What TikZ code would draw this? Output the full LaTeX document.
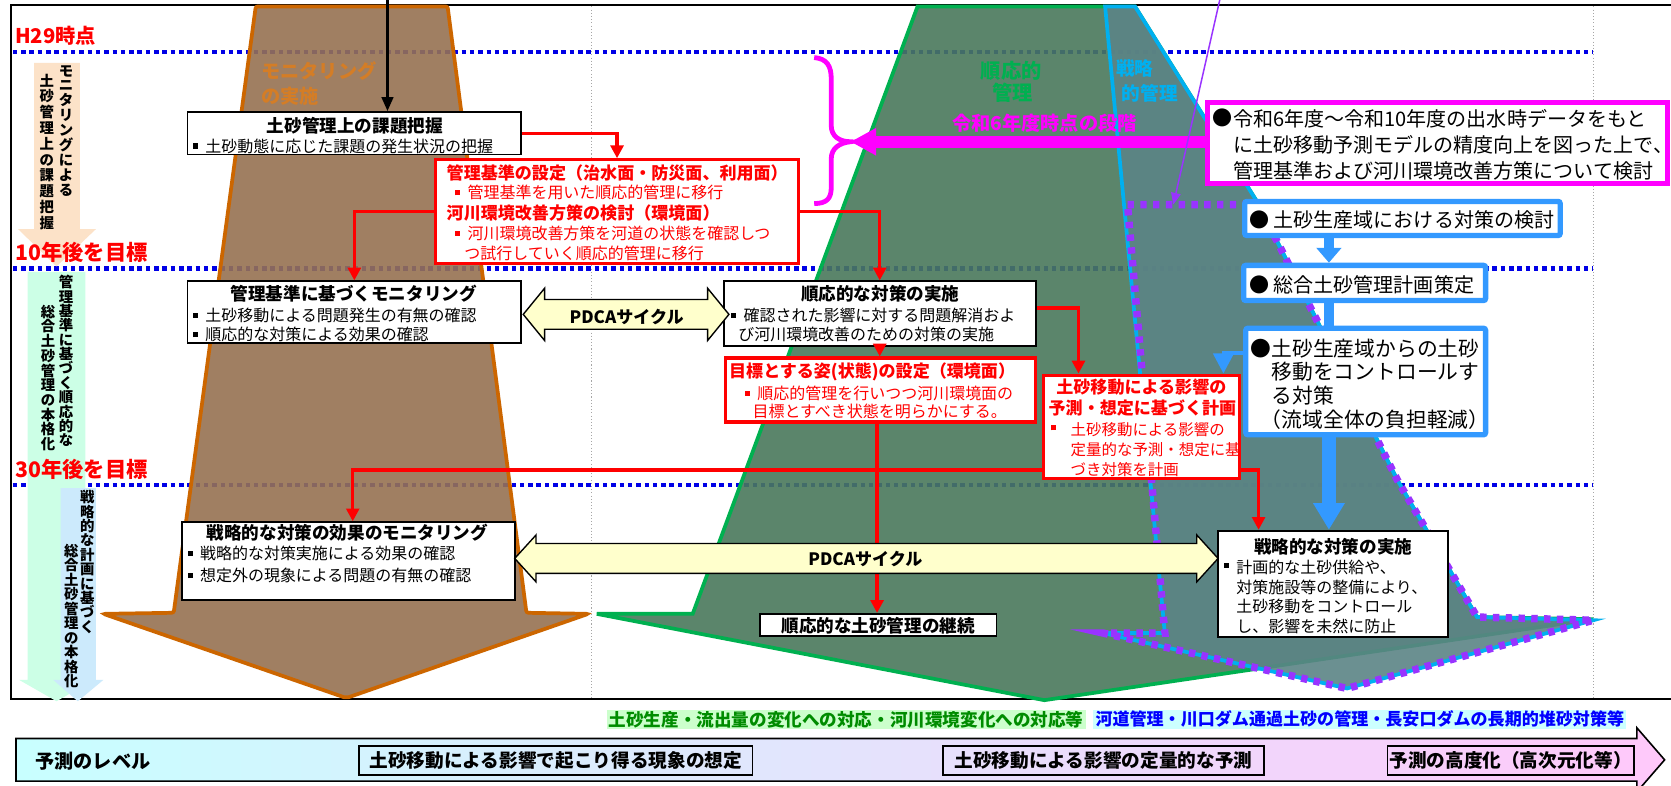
\documentclass[tikz,border=0pt]{standalone}
\usepackage{fontspec}
\setmainfont{Noto Sans CJK JP}
\usetikzlibrary{arrows.meta,fit,calc}
\definecolor{brn}{RGB}{204,102,0}
\definecolor{brnfill}{RGB}{150,114,82}
\definecolor{grn}{RGB}{0,176,80}
\definecolor{grnfill}{RGB}{74,120,92}
\definecolor{cyn}{RGB}{0,176,240}
\definecolor{cynfill}{RGB}{92,132,134}
\definecolor{vio}{RGB}{153,51,255}
\definecolor{mg}{RGB}{255,0,255}
\definecolor{bl}{RGB}{51,153,255}
\definecolor{dotb}{RGB}{0,0,230}
\definecolor{peach}{RGB}{252,226,200}
\definecolor{lgrn}{RGB}{204,255,230}
\definecolor{lblu}{RGB}{204,234,252}
\definecolor{pdc}{RGB}{255,255,204}
\definecolor{lcyan}{RGB}{200,255,255}
\definecolor{lyel}{RGB}{255,255,210}
\definecolor{lpink}{RGB}{255,200,250}
\definecolor{lg2}{RGB}{204,255,204}
\definecolor{dg}{RGB}{0,140,0}
\definecolor{lc2}{RGB}{204,255,255}
\newcommand\fs[1]{\fontsize{#1}{#1}\selectfont}
\newcommand\sqb{\rule[0.22em]{0.32em}{0.32em}\hspace{0.45em}}
\ExplSyntaxOn
\NewDocumentCommand\vtx{O{1.04}m}{\vbox{\baselineskip=#1em\lineskiplimit=-\maxdimen\lineskip=0pt\tl_map_inline:nn{#2}{\hbox to 1em{\hss##1\hss}}}}
\ExplSyntaxOff
\begin{document}
\begin{tikzpicture}[x=1pt,y=-1pt,
  bx/.style={draw=black, line width=1.7pt, fill=white, inner sep=0pt},
  rbx/.style={draw=red, line width=3pt, fill=white, inner sep=0pt},
  blbx/.style={draw=bl, line width=5pt, fill=white, rounded corners=2pt, inner sep=0pt},
  mgbx/.style={draw=mg, line width=5pt, fill=white, inner sep=0pt},
  txt/.style={inner sep=0pt, anchor=west, font=\fs{15}},
  rtx/.style={inner sep=0pt, anchor=west, font=\fs{15}, text=red},
  ttl/.style={inner sep=0pt, font=\fs{16.5}\bfseries},
  rtt/.style={inner sep=0pt, font=\fs{16}\bfseries, text=red},
  rarr/.style={draw=red, line width=3pt, -{Triangle[length=12pt,width=12pt]}},
  vlab/.style={inner sep=0pt, anchor=north, font=\fs{13.5}\bfseries},
  yl/.style={inner sep=0pt, anchor=west, font=\fs{19}\bfseries, text=red},
  blu/.style={inner sep=0pt, anchor=west, font=\fs{18.8}},
  pdca/.style={draw=black, line width=1.3pt, fill=pdc},
  lvl/.style={draw=black, line width=1.5pt, font=\fs{17.5}\bfseries, minimum height=27pt, inner sep=0pt},
  viodot/.style={draw=vio, line width=7pt, dash pattern=on 6pt off 6pt}
]
\useasboundingbox (0,0) rectangle (1568,737);
\fill[white] (0,0) rectangle (1568,737);

% frame, guides
\draw[line width=1.8pt] (10,5) rectangle (1590,656);
\draw[gray!70, line width=1pt, dotted] (555,6) -- (555,655);
\draw[gray!70, line width=1pt, dotted] (1495,6) -- (1495,655);
\foreach \yy in {49,252,455} \draw[dotb, line width=4.2pt, dash pattern=on 4.2pt off 3.6pt] (12,\yy) -- (1495,\yy);

% left stage arrows
\fill[peach] (32,59) -- (75,59) -- (75,215) -- (90,215) -- (53,250) -- (17,215) -- (32,215) -- cycle;
\fill[lgrn] (26,255) -- (80,255) -- (80,638) -- (88,638) -- (53,658) -- (18,638) -- (26,638) -- cycle;
\fill[lblu] (57,458) -- (90,458) -- (90,638) -- (97,638) -- (73,658) -- (50,638) -- (57,638) -- cycle;
\node[vlab] (v1) at (62,61) {\vtx{モニタリングによる}};
\node[vlab] (v2) at (44,69) {\vtx[1.1]{土砂管理上の課題把握}};
\node[vlab] (v3) at (62,258) {\vtx[1.0]{管理基準に基づく順応的な}};
\node[vlab] (v4) at (45,286) {\vtx[1.02]{総合土砂管理の本格化}};
\node[vlab] (v5) at (82,460) {\vtx[1.0]{戦略的な計画に基づく}};
\node[vlab] (v6) at (67,510) {\vtx[1.01]{総合土砂管理の本格化}};

\node[yl] (h29) at (14,34) {H29時点};
\node[yl, font=\fs{20}\bfseries] (y10) at (14,237) {10年後を目標};
\node[yl, font=\fs{20}\bfseries] (y30) at (14,440) {30年後を目標};

% big shapes
\draw[brn, line width=3.5pt, fill=brnfill, fill opacity=0.9, rounded corners=2pt] (240,6) -- (420,6) -- (494,575) -- (552,576) -- (325,655) -- (97,576) -- (163,575) -- cycle;
\draw[grn, line width=3.5pt, fill=grnfill, fill opacity=0.9] (861,6) -- (1065,6) -- (1180,190) -- (1311,450) -- (1386,579) -- (1495,581) -- (980,657) -- (560,576) -- (650,576) -- cycle;
\draw[cyn, line width=3.5pt, fill=cynfill, fill opacity=0.9] (1037,6) -- (1065,6) -- (1180,190) -- (1311,450) -- (1386,579) -- (1495,582) -- (1264,646) -- (1035,594) -- (1093,594) -- cycle;
\draw[viodot] (1058,192) -- (1181,192) -- (1311,450) -- (1386,579) -- (1495,582) -- (1264,646) -- (1035,594) -- (1093,594) -- cycle;

\node[inner sep=0pt, anchor=west, font=\fs{18}\bfseries, text=brn!85!white] (mon1) at (245,67) {モニタリング};
\node[inner sep=0pt, anchor=west, font=\fs{18}\bfseries, text=brn!85!white] (mon2) at (245,90) {の実施};
\node[inner sep=0pt, font=\fs{19}\bfseries, text=grn] (jn1) at (949,66) {順応的};
\node[inner sep=0pt, font=\fs{19}\bfseries, text=grn] (jn2) at (950,87) {管理};
\node[inner sep=0pt, font=\fs{17.5}\bfseries, text=cyn] (sr1) at (1065,64) {戦略};
\node[inner sep=0pt, font=\fs{17.5}\bfseries, text=cyn] (sr2) at (1079,88) {的管理};

% box 1
\node[bx, fit={(176,105) (489,145)}] (b1) {};
\node[ttl] (b1t) at (333,118) {土砂管理上の課題把握};
\node[txt] (b1a) at (181,137) {\sqb 土砂動態に応じた課題の発生状況の把握};

% box 2 (red)
\node[rbx, fit={(409,150) (749,247)}] (b2) {};
\node[rtt, anchor=west] (b2t) at (419,162.5) {管理基準の設定（治水面・防災面、利用面）};
\node[rtx] (b2a) at (427,181) {\sqb 管理基準を用いた順応的管理に移行};
\node[rtt, anchor=west] (b2u) at (419,200) {河川環境改善方策の検討（環境面）};
\node[rtx] (b2b) at (427,219) {\sqb 河川環境改善方策を河道の状態を確認しつ};
\node[rtx] (b2c) at (435.6,237.5) {つ試行していく順応的管理に移行};

% box 3
\node[bx, fit={(176,264) (489,322)}] (b3) {};
\node[ttl] (b3t) at (332,276) {管理基準に基づくモニタリング};
\node[txt] (b3a) at (181,296) {\sqb 土砂移動による問題発生の有無の確認};
\node[txt] (b3b) at (181,314) {\sqb 順応的な対策による効果の確認};

% box 4
\node[bx, fit={(679,264) (972,325)}] (b4) {};
\node[ttl] (b4t) at (826,276) {順応的な対策の実施};
\node[txt] (b4a) at (686,296) {\sqb 確認された影響に対する問題解消およ};
\node[txt] (b4b) at (692.6,314) {び河川環境改善のための対策の実施};

% box 5 (red)
\node[rbx, fit={(681,336) (972,396)}] (b5) {};
\node[rtt, anchor=west] (b5t) at (684,349) {目標とする姿(状態)の設定（環境面）};
\node[rtx] (b5a) at (699,369) {\sqb 順応的管理を行いつつ河川環境面の};
\node[rtx] (b5b) at (706,386) {目標とすべき状態を明らかにする。};

% box 6 (red)
\node[rbx, fit={(979,352) (1163,449)}] (b6) {};
\node[rtt] (b6t) at (1071,363) {土砂移動による影響の};
\node[rtt] (b6u) at (1072,383) {予測・想定に基づく計画};
\node[rtx, font=\fs{14.5}] (b6s) at (986,403) {\rule[0.22em]{0.32em}{0.32em}};
\node[rtx, font=\fs{14.5}] (b6a) at (1004.5,403) {土砂移動による影響の};
\node[rtx, font=\fs{14.5}] (b6b) at (1004.5,422) {定量的な予測・想定に基};
\node[rtx, font=\fs{14.5}] (b6c) at (1004.5,441) {づき対策を計画};

% box 7
\node[bx, fit={(171,490) (483,563)}] (b7) {};
\node[ttl] (b7t) at (326,500) {戦略的な対策の効果のモニタリング};
\node[txt] (b7a) at (176,519) {\sqb 戦略的な対策実施による効果の確認};
\node[txt] (b7b) at (176,540) {\sqb 想定外の現象による問題の有無の確認};

% box 8
\node[bx, fit={(1143,498) (1359,598)}] (b8) {};
\node[ttl] (b8t) at (1251,513) {戦略的な対策の実施};
\node[txt] (b8s) at (1148.6,532) {\rule[0.22em]{0.32em}{0.32em}};
\node[txt] (b8a) at (1160,532) {計画的な土砂供給や、};
\node[txt] (b8b) at (1160,551) {対策施設等の整備により、};
\node[txt] (b8c) at (1160,569.5) {土砂移動をコントロール};
\node[txt] (b8d) at (1160,588) {し、影響を未然に防止};

% box 9
\node[bx, fit={(713,576) (935,597)}] (bk) {};
\node[ttl, font=\fs{16.5}\bfseries] (bkt) at (824,587) {順応的な土砂管理の継続};

% red connectors
\draw[rarr] (b1.east) -| (b2.north);
\draw[rarr] (b2.west) -| (b3.north);
\draw[rarr] (b2.east) -| (b4.north);
\draw[rarr] (b4.south) -- (b4.south |- b5.north);
\draw[rarr] (b4.east |- 0,289) -| (b6.north -| 1012,0);
\draw[rarr] (b5.south -| 823,0) -- (bk.north -| 823,0);
\draw[rarr] (b6.west |- 0,441) -| (b7.north -| 331,0);
\draw[rarr] (b6.east |- 0,441) -| (b8.north -| 1181,0);

% PDCA arrows
\draw[pdca] (491,295) -- (511,270.5) -- (511,281) -- (664,281) -- (664,270.5) -- (684,295) -- (664,319.5) -- (664,309) -- (511,309) -- (511,319.5) -- cycle;
\node[inner sep=0pt, font=\fs{16}\bfseries] (pd1) at (588,297) {PDCAサイクル};
\draw[pdca] (483,524) -- (503,502) -- (503,510) -- (1123,510) -- (1123,502) -- (1143,524) -- (1123,546) -- (1123,538) -- (503,538) -- (503,546) -- cycle;
\node[inner sep=0pt, font=\fs{16}\bfseries] (pd2) at (812,525) {PDCAサイクル};

% black input arrow
\coordinate (topin) at (363.6,-2);
\draw[line width=2pt, -{Triangle[length=13pt,width=11pt]}] (topin) -- (b1.north -| topin);

% magenta brace, arrow and box
\coordinate (brtip) at (798,133);
\draw[mg, line width=4.5pt] (764,54) .. controls (776,55) and (780,62) .. (780,74) -- (780,118) .. controls (780,128) and (788,133) .. (brtip) .. controls (788,134) and (780,139) .. (780,149) -- (780,176) .. controls (780,186) and (776,191) .. (764,191);
\node[mgbx, fit={(1133,96) (1565,172)}] (mgb) {};
\draw[mg, line width=11pt, -{Triangle[length=24pt,width=24pt]}] (mgb.west |- 0,133) -- (brtip);
\node[inner sep=0pt, font=\fs{18}\bfseries, text=mg] (r6) at (980,116) {令和6年度時点の段階};
\node[blu] (m1s) at (1138,111) {●};
\node[blu] (m1) at (1157,111) {令和6年度～令和10年度の出水時データをもと};
\node[blu] (m2) at (1157,136) {に土砂移動予測モデルの精度向上を図った上で、};
\node[blu] (m3) at (1157,160) {管理基準および河川環境改善方策について検討};

% blue boxes
\node[blbx, fit={(1168,189) (1464,221)}] (ba) {};
\node[blu] (bat) at (1172,206) {● 土砂生産域における対策の検討};
\node[blbx, fit={(1167,249) (1394,282)}] (bb) {};
\node[blu] (bbt) at (1172,267) {● 総合土砂管理計画策定};
\node[blbx, fit={(1169,308) (1394,408)}] (bc) {};
\node[blu, font=\fs{19.5}] (bc1) at (1173,327) {●};
\node[blu, font=\fs{19.5}] (bc2) at (1193,327) {土砂生産域からの土砂};
\node[blu, font=\fs{19.5}] (bc3) at (1193,349) {移動をコントロールす};
\node[blu, font=\fs{19.5}] (bc4) at (1193,371) {る対策};
\node[blu, font=\fs{19.5}] (bc5) at (1183,394) {（流域全体の負担軽減）};

\draw[bl, line width=10pt, -{Triangle[length=14pt,width=23pt]}] (ba.south -| 1247,0) -- (bb.north -| 1247,0);
\draw[bl, line width=10pt] (bb.south -| 1247,0) -- (bc.north -| 1247,0);
\draw[bl, line width=3.5pt, -{Triangle[length=19pt,width=19pt]}] (bc.west |- 0,331) -| (b6.north -| 1148,0);
\draw[bl, line width=13pt, -{Triangle[length=25pt,width=28pt]}] (bc.south -| 1247,0) -- (b8.north -| 1247,0);

% purple thin arrow
\coordinate (pst) at (1145,-2);
\coordinate (pen) at (1101,192);
\draw[vio, line width=1.4pt, -{Triangle[length=11pt,width=9pt]}] (pst) -- (pen);

% bottom category labels
\node[fill=lg2, text=dg, font=\fs{16.5}\bfseries, inner xsep=2pt, inner ysep=1pt] (lbg) at (794,675) {土砂生産・流出量の変化への対応・河川環境変化への対応等};
\node[fill=lc2, text=blue, font=\fs{16}\bfseries, inner xsep=2pt, inner ysep=1pt] (lbb) at (1276,675) {河道管理・川口ダム通過土砂の管理・長安口ダムの長期的堆砂対策等};

% bottom level arrow
\draw[line width=1.5pt, left color=lcyan, middle color=lyel, right color=lpink] (15,693) -- (1536,693) -- (1536,683) -- (1562,713) -- (1536,743) -- (1536,733) -- (15,733) -- cycle;
\node[inner sep=0pt, anchor=west, font=\fs{18}\bfseries] (lv0) at (33,714) {予測のレベル};
\node[lvl, minimum width=369pt] (lv1) at (521.5,713.5) {土砂移動による影響で起こり得る現象の想定};
\node[lvl, minimum width=301pt] (lv2) at (1035.5,713.5) {土砂移動による影響の定量的な予測};
\node[lvl, minimum width=231pt] (lv3) at (1417.5,713.5) {予測の高度化（高次元化等）};
\end{tikzpicture}
\end{document}
